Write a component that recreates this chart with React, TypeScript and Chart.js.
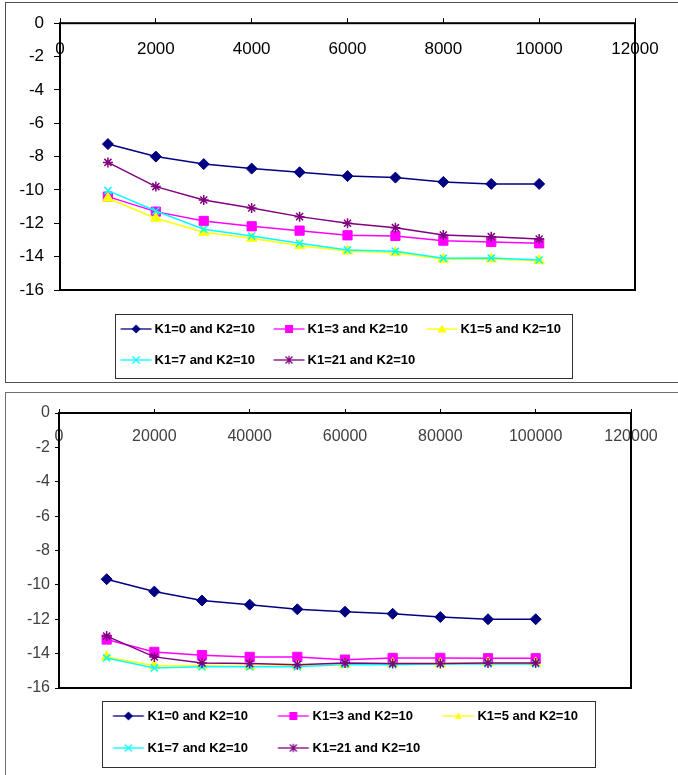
import React, { useEffect, useRef } from 'react';
import { Chart, registerables } from 'chart.js';

Chart.register(...registerables);

const FONT = "'Liberation Sans', Arial, sans-serif";

// ---------- data ----------
const seriesLabels = ['K1=0 and K2=10', 'K1=3 and K2=10', 'K1=5 and K2=10', 'K1=7 and K2=10', 'K1=21 and K2=10'];
const seriesColors = ['#000080', '#FF00FF', '#FFFF00', '#00FFFF', '#800080'];
const pointStyles = ['rectRot', 'rect', 'triangle', 'crossRot', 'star'];
const legendMarkers = ['diamond', 'square', 'triangle', 'x', 'star'];

// upper chart
const topX = [1000, 2000, 3000, 4000, 5000, 6000, 7000, 8000, 9000, 10000];
const topK1_0 = [-7.25, -8.0, -8.45, -8.72, -8.94, -9.17, -9.26, -9.52, -9.64, -9.64];
const topK1_3 = [-10.4, -11.3, -11.86, -12.18, -12.44, -12.72, -12.76, -13.04, -13.12, -13.2];
const topK1_5 = [-10.5, -11.7, -12.54, -12.9, -13.34, -13.66, -13.76, -14.16, -14.14, -14.24];
const topK1_7 = [-10.04, -11.26, -12.36, -12.76, -13.2, -13.6, -13.68, -14.1, -14.08, -14.2];
const topK1_21 = [-8.35, -9.8, -10.6, -11.08, -11.6, -12.0, -12.26, -12.7, -12.8, -12.94];

// lower chart
const bottomX = [10000, 20000, 30000, 40000, 50000, 60000, 70000, 80000, 90000, 100000];
const bottomK1_0 = [-9.67, -10.39, -10.91, -11.15, -11.42, -11.56, -11.68, -11.87, -12.0, -12.0];
const bottomK1_3 = [-13.18, -13.9, -14.09, -14.19, -14.19, -14.35, -14.25, -14.25, -14.27, -14.27];
const bottomK1_5 = [-14.19, -14.7, -14.7, -14.74, -14.7, -14.64, -14.58, -14.58, -14.54, -14.54];
const bottomK1_7 = [-14.25, -14.83, -14.77, -14.77, -14.77, -14.64, -14.64, -14.6, -14.6, -14.6];
const bottomK1_21 = [-12.98, -14.19, -14.54, -14.58, -14.64, -14.54, -14.58, -14.58, -14.54, -14.54];

// axis ranges
const topXRange = { min: 0, max: 12000, step: 2000 };
const bottomXRange = { min: 0, max: 120000, step: 20000 };
const yRange = { min: -16, max: 0, step: 2 };

// ---------- helpers ----------
function drawMarker(g: CanvasRenderingContext2D, kind: string, x: number, y: number, color: string, s: number) {
  g.fillStyle = color;
  g.strokeStyle = color;
  g.lineWidth = 1.2;
  g.beginPath();
  if (kind === 'diamond') {
    g.moveTo(x, y - s); g.lineTo(x + s, y); g.lineTo(x, y + s); g.lineTo(x - s, y); g.closePath(); g.fill();
  } else if (kind === 'square') {
    g.rect(x - s, y - s, 2 * s, 2 * s); g.fill();
  } else if (kind === 'triangle') {
    g.moveTo(x, y - s); g.lineTo(x + s, y + s * 0.8); g.lineTo(x - s, y + s * 0.8); g.closePath(); g.fill();
  } else if (kind === 'x') {
    g.moveTo(x - s, y - s); g.lineTo(x + s, y + s); g.moveTo(x + s, y - s); g.lineTo(x - s, y + s); g.stroke();
  } else {
    g.moveTo(x - s, y - s); g.lineTo(x + s, y + s); g.moveTo(x + s, y - s); g.lineTo(x - s, y + s);
    g.moveTo(x, y - s * 1.2); g.lineTo(x, y + s * 1.2); g.stroke();
  }
}

function legendSample(color: string, marker: string, boxW: number, lineStart: number, lineEnd: number, size: number) {
  const half = Math.ceil(Math.max(Math.abs(lineStart - boxW / 2), Math.abs(lineEnd - boxW / 2))) + 2;
  const W = half * 2;
  const H = 14;
  const c = document.createElement('canvas');
  c.width = W;
  c.height = H;
  const g = c.getContext('2d')!;
  const off = W / 2 - boxW / 2;
  const x0 = lineStart + off;
  const x1 = lineEnd + off;
  const cy = H / 2;
  g.strokeStyle = color;
  g.lineWidth = 1.3;
  g.beginPath();
  g.moveTo(x0, cy);
  g.lineTo(x1, cy);
  g.stroke();
  drawMarker(g, marker, (x0 + x1) / 2, cy, color, size);
  return c;
}

type Spec = {
  width: number; height: number;
  xs: number[]; series: number[][];
  xRange: { min: number; max: number; step: number };
  tickFont: number; tickColor: string;
  yTickLen: number; yTickPad: number; xTickLen: number; xLabelPad: number;
  padR: number; padT: number; padB: number; yAxisW: number;
  legendPad: number; boxW: number; lineStart: number; lineEnd: number; titleH: number; legendShift: number;
  boxL: number; boxR: number; boxT: number; boxB: number;
  markerSizes: number[];
};

function buildConfig(p: Spec): any {
  const images = seriesLabels.map((_, i) =>
    legendSample(seriesColors[i], legendMarkers[i], p.boxW, p.lineStart, p.lineEnd, p.markerSizes[i]));

  const datasets = p.series.map((vals, i) => ({
    label: seriesLabels[i],
    data: p.xs.map((x, j) => ({ x, y: vals[j] })),
    borderColor: seriesColors[i],
    backgroundColor: seriesColors[i],
    borderWidth: 1.5,
    pointStyle: pointStyles[i],
    pointRadius: [5.5, 6.5, 6, 5, 5][i],
    pointBorderWidth: [1, 1, 1, 1.5, 1.5][i],
    pointBackgroundColor: seriesColors[i],
    pointBorderColor: seriesColors[i],
    order: -i,
  }));

  const tickFont = { family: FONT, size: p.tickFont };

  const deco = {
    id: 'deco',
    afterLayout(chart: any) {
      const lg = chart.legend;
      if (lg && lg.lineWidths && lg.lineWidths.length) {
        const w = lg.lineWidths[0] + 2 * p.legendShift;
        for (let i = 0; i < lg.lineWidths.length; i++) lg.lineWidths[i] = w;
      }
    },
    beforeDatasetsDraw(chart: any) {
      const { ctx, chartArea: a } = chart;
      ctx.save();
      ctx.strokeStyle = '#000';
      ctx.lineWidth = 2;
      ctx.strokeRect(a.left, a.top, a.right - a.left, a.bottom - a.top);
      ctx.restore();
    },
    afterDraw(chart: any) {
      const lg = chart.legend;
      if (!lg || !lg.legendHitBoxes || !lg.legendHitBoxes.length) return;
      const hb = lg.legendHitBoxes;
      const row0 = hb.filter((h: any) => h.row === 0);
      const last = hb[hb.length - 1];
      const first = row0[0];
      const end = row0[row0.length - 1];
      const left = Math.round(first.left + p.lineStart - p.boxL) + 0.5;
      const right = Math.round(end.left + end.width + p.boxR) + 0.5;
      const top = Math.round(first.top + first.height / 2 - p.boxT) + 0.5;
      const bottom = Math.round(last.top + last.height / 2 + p.boxB) + 0.5;
      const ctx = chart.ctx;
      ctx.save();
      ctx.strokeStyle = '#303030';
      ctx.lineWidth = 1;
      ctx.strokeRect(left, top, right - left, bottom - top);
      ctx.restore();
    },
  };

  return {
    type: 'line',
    data: { datasets },
    plugins: [deco],
    options: {
      responsive: false,
      animation: false,
      events: [],
      layout: { padding: { left: 0, right: p.padR, top: p.padT, bottom: p.padB } },
      scales: {
        x: {
          type: 'linear',
          position: { y: 0 },
          min: p.xRange.min,
          max: p.xRange.max,
          grid: { display: false },
          border: { display: false },
          ticks: {
            stepSize: p.xRange.step,
            autoSkip: false,
            maxRotation: 0,
            padding: p.xLabelPad,
            color: p.tickColor,
            font: tickFont,
            callback: (v: any) => String(v),
          },
        },
        x2: {
          type: 'linear',
          position: 'top',
          min: p.xRange.min,
          max: p.xRange.max,
          grid: { display: true, drawOnChartArea: false, drawTicks: true, tickLength: p.xTickLen, color: '#000', lineWidth: 1 },
          border: { display: false },
          ticks: { display: false, stepSize: p.xRange.step },
        },
        y: {
          type: 'linear',
          position: 'left',
          min: yRange.min,
          max: yRange.max,
          afterFit: (scale: any) => { scale.width = p.yAxisW; },
          grid: { display: true, drawOnChartArea: false, drawTicks: true, tickLength: p.yTickLen, color: '#000', lineWidth: 1 },
          border: { display: false },
          ticks: {
            stepSize: yRange.step,
            autoSkip: false,
            padding: p.yTickPad,
            color: p.tickColor,
            font: tickFont,
            callback: (v: any) => String(v),
          },
        },
      },
      plugins: {
        tooltip: { enabled: false },
        legend: {
          display: true,
          position: 'bottom',
          align: 'center',
          fullSize: false,
          title: { display: true, text: '', font: { size: 1, lineHeight: 1 }, padding: { top: p.titleH - 1, bottom: 0 } },
          labels: {
            usePointStyle: true,
            pointStyleWidth: p.boxW,
            padding: p.legendPad,
            color: '#000',
            font: { family: FONT, size: 13, weight: 'bold' },
            generateLabels: (chart: any) => chart.data.datasets.map((ds: any, i: number) => ({
              text: ds.label,
              datasetIndex: i,
              hidden: false,
              pointStyle: images[i],
              fillStyle: seriesColors[i],
              strokeStyle: seriesColors[i],
              lineWidth: 0,
              fontColor: '#000',
            })),
          },
        },
      },
    },
  };
}

const topSpec: Spec = {
  width: 672, height: 379,
  xs: topX, series: [topK1_0, topK1_3, topK1_5, topK1_7, topK1_21],
  xRange: topXRange,
  tickFont: 17, tickColor: '#000',
  yTickLen: 6, yTickPad: 10, xTickLen: 5, xLabelPad: 8,
  padR: 43, padT: 15, padB: 5.5, yAxisW: 54,
  legendPad: 18, boxW: 28, lineStart: 0.5, lineEnd: 31.5, titleH: 14.5, legendShift: 7,
  boxL: 6, boxR: 11, boxT: 15, boxB: 18,
  markerSizes: [4.5, 4, 4.5, 3.5, 3.5],
};

const bottomSpec: Spec = {
  width: 672, height: 382,
  xs: bottomX, series: [bottomK1_0, bottomK1_3, bottomK1_5, bottomK1_7, bottomK1_21],
  xRange: bottomXRange,
  tickFont: 16, tickColor: '#404040',
  yTickLen: 4, yTickPad: 5, xTickLen: 4, xLabelPad: 6.4,
  padR: 47, padT: 16, padB: 10.5, yAxisW: 53,
  legendPad: 19, boxW: 39, lineStart: 10.8, lineEnd: 41.8, titleH: 2.5, legendShift: 5,
  boxL: 11, boxR: 17, boxT: 15.3, boxB: 19,
  markerSizes: [4.5, 4, 3.5, 3.5, 3.5],
};

function ChartPanel({ spec }: { spec: Spec }) {
  const ref = useRef<HTMLCanvasElement>(null);
  useEffect(() => {
    if (!ref.current) return;
    const chart = new Chart(ref.current, buildConfig(spec));
    return () => chart.destroy();
  }, [spec]);
  return (
    <canvas
      ref={ref}
      width={spec.width}
      height={spec.height}
      style={{ display: 'block', width: spec.width, height: spec.height }}
    />
  );
}

export default function App() {
  const frame = (top: number, height: number, color: string): React.CSSProperties => ({
    position: 'absolute',
    left: 5,
    top,
    width: 672,
    height,
    borderTop: `1px solid ${color}`,
    borderLeft: `1px solid ${color}`,
    borderBottom: `1px solid ${color}`,
    background: '#fff',
  });
  return (
    <div style={{ position: 'absolute', left: 0, top: 0, width: 678, height: 775, overflow: 'hidden', background: '#fff', fontFamily: FONT }}>
      <div style={frame(2, 379, '#505050')}>
        <ChartPanel spec={topSpec} />
      </div>
      <div style={frame(392, 382, '#707070')}>
        <ChartPanel spec={bottomSpec} />
      </div>
    </div>
  );
}
